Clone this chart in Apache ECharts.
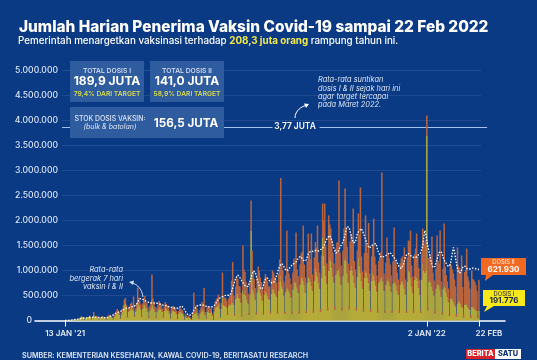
<!DOCTYPE html>
<html><head><meta charset="utf-8">
<style>html,body{margin:0;padding:0;background:#0b3a85}#c{width:537px;height:360px}</style>
<script src="https://cdn.jsdelivr.net/npm/echarts@6/dist/echarts.min.js"></script>
</head><body><div id="c"></div>
<script>
// daily vaccine recipients in thousands, 13 Jan 2021 .. 22 Feb 2022
const dose1 = [
2,3,5,8,10,4,12, 15,18,25,22,20,6,22, 45,60,80,70,55,15,50, 55,60,70,90,65,20,60,
120,70,60,75,60,20,55, 60,70,65,55,50,15,50, 60,90,80,70,55,25,80, 110,130,180,150,120,35,110,
170,220,320,330,240,60,180, 200,240,260,220,200,70,170, 240,380,320,270,220,70,240, 320,310,260,240,180,50,200,
250,420,300,240,180,60,180, 220,270,240,220,170,60,190, 250,230,200,200,140,40,160, 190,200,180,170,130,30,130,
180,170,150,140,100,20,80, 60,50,70,50,30,10,110, 180,130,200,160,100,40,140, 170,240,210,170,110,40,170,
190,160,150,170,90,10,180, 250,270,290,340,240,60,230, 450,320,290,300,260,110,290, 340,320,520,360,320,100,440,
560,540,450,440,360,80,600, 520,620,500,420,340,110,520, 1800,900,620,540,420,120,560, 700,640,560,500,400,110,520,
600,560,500,440,420,140,540, 640,620,560,520,480,130,600, 780,900,700,640,500,130,580, 680,640,600,540,460,130,620,
800,760,760,660,560,140,720, 860,880,800,720,560,150,760, 880,840,780,700,600,160,800, 1050,980,880,760,640,170,860,
1660,1300,1100,900,740,200,1000, 1260,1200,1050,880,760,220,920, 1000,1000,1050,880,720,200,900, 1200,1260,1200,950,760,220,1000,
1100,1000,900,750,660,200,880, 1260,1100,950,800,640,180,850, 1000,950,850,750,600,170,800, 950,900,800,700,580,160,750,
800,850,900,780,600,150,720, 800,850,780,700,580,150,740, 780,760,700,600,520,150,720, 780,800,740,640,520,150,780,
1000,980,860,680,560,160,820, 900,860,800,650,520,150,820, 1140,1000,950,1000,3700,200,780, 820,760,680,600,500,140,640,
720,740,700,620,480,120,640, 700,660,560,480,380,90,440, 460,420,380,320,280,70,340, 400,370,330,280,250,60,320,
340,320,280,240,220,50,280, 270,250,230,210,190,50,191.776
];
const dose2 = [
0,0,0,0,0,0,0, 0,0,0,0,0,0,0, 0,0,0,0,0,0,0, 2,3,5,8,5,2,10,
50,10,20,20,15,5,15, 15,20,20,15,10,5,15, 15,30,30,20,15,5,30, 40,50,50,50,40,10,50,
60,80,100,120,70,20,70, 70,90,100,80,280,30,70, 100,280,140,120,100,30,100, 130,180,110,100,80,20,90,
120,500,140,110,90,30,80, 100,120,110,100,70,30,90, 120,100,100,90,60,20,70, 90,90,80,70,60,15,60,
80,70,70,60,40,10,40, 30,20,30,20,15,5,50, 380,80,100,80,50,20,70, 90,130,110,480,60,20,90,
100,90,80,90,50,5,90, 130,150,160,180,120,10,120, 510,170,160,160,140,30,150, 180,170,280,810,180,30,240,
300,290,240,240,190,15,900, 500,350,280,230,200,40,280, 600,500,340,290,230,40,300, 380,350,300,270,220,40,280,
330,310,280,240,260,50,300, 360,340,310,300,280,50,340, 440,1950,400,360,280,40,320, 1120,360,340,300,270,50,340,
440,420,1000,360,330,50,400, 480,500,1100,400,300,50,420, 860,480,440,1040,320,60,460, 520,480,1020,400,320,60,440,
680,700,1240,600,400,70,1100, 660,640,560,480,380,70,520, 560,560,1750,480,380,60,500, 640,1380,640,520,380,70,580,
620,560,1340,440,360,60,520, 880,620,1710,480,340,60,500, 1100,560,500,1200,340,50,480, 560,1140,480,420,320,50,440,
480,520,2060,460,340,50,440, 860,500,460,420,320,50,440, 1080,440,420,360,300,50,430, 460,480,440,820,300,50,480,
600,600,940,420,320,50,500, 540,880,480,400,300,50,500, 700,600,570,620,400,60,470, 500,460,1000,360,300,50,400,
980,450,430,1180,300,40,400, 1240,420,350,300,260,35,700, 640,600,560,500,400,60,1120, 700,680,620,1020,420,60,650,
680,1120,600,560,420,60,720, 560,560,540,500,400,70,621.93
];
const movingAvg = [
1,2,3,4,6,7,8, 10,14,18,20,22,24,26, 30,36,42,48,50,52,50, 52,55,58,60,62,60,60,
68,66,64,62,60,58,58, 60,58,56,55,54,56,60, 66,72,78,90,100,110,125, 140,150,160,165,170,180,195,
205,215,230,240,250,255,250, 255,265,270,280,285,290,300, 330,370,410,430,440,430,420, 410,400,390,380,370,360,350,
350,350,355,350,345,350,345, 340,335,325,320,310,305,300, 300,295,285,280,270,265,260, 255,250,245,250,250,245,250,
265,280,290,280,250,210,170, 140,120,110,105,110,130,170, 210,240,270,290,300,305,310, 312,310,305,300,290,285,280,
275,270,268,270,275,285,300, 330,360,390,420,440,460,470, 480,490,495,505,510,510,505, 510,530,590,650,720,790,850,
890,910,890,860,830,790,760, 720,700,680,670,680,720,790, 860,930,990,1000,970,900,820, 750,690,640,610,640,700,770,
830,870,850,810,790,770,755, 750,760,790,840,900,970,1040, 1090,1130,1140,1120,1080,1040,1000, 1000,1010,1030,1060,1090,1110,1130,
1140,1150,1170,1210,1240,1270,1280, 1270,1240,1210,1190,1180,1210,1270, 1330,1370,1380,1390,1380,1390,1400, 1410,1400,1400,1390,1410,1420,1430,
1440,1480,1530,1580,1620,1660,1690, 1700,1660,1600,1520,1450,1400,1350, 1340,1370,1420,1460,1500,1540,1570, 1640,1720,1820,1880,1900,1860,1780,
1700,1620,1560,1520,1560,1650,1740, 1780,1800,1820,1840,1800,1740,1680, 1620,1560,1500,1460,1450,1470,1500, 1510,1520,1530,1540,1480,1400,1350,
1300,1270,1260,1270,1280,1290,1300, 1310,1330,1350,1360,1340,1310,1280, 1260,1240,1200,1150,1110,1070,1050, 1040,1060,1120,1190,1260,1310,1340,
1340,1320,1300,1290,1270,1260,1260, 1260,1270,1290,1320,1340,1350,1360, 1500,1660,1800,1720,1600,1480,1400, 1300,1200,1120,1060,1040,1080,1150,
1220,1300,1360,1400,1380,1320,1260, 1210,1180,1140,1100,1080,1060,1120, 1230,1360,1460,1380,1260,1130,1040, 960,940,960,1000,1060,1100,1090,
1060,1040,1030,1030,1020,1030,1040, 1050,1040,1040,1030,1030,1020,1020
];
const leadBlank = 29, tailBlank = 25;
const tickLabels = {"2021-01-13":"13 JAN '21","2022-01-02":"2 JAN '22","2022-02-22":"22 FEB"};
const yTicks = [500000,1000000,1500000,2000000,2500000,3000000,3500000,4000000,4500000,5000000];
const targetLineValue = 3870000;

const categories = [];
for (let i = 0; i < leadBlank + dose1.length + tailBlank; i++) {
  categories.push(new Date(Date.UTC(2021,0,13 + i - leadBlank)).toISOString().slice(0,10));
}
const pad = a => Array(leadBlank).fill(null).concat(a.map(v => v * 1000), Array(tailBlank).fill(null));
const F = 'Inter, "Open Sans", sans-serif';
const isTick = (i, v) => tickLabels[v] !== undefined;

function T(text,x,y,size,color,weight,extra){
  return {type:'text',z:120,style:Object.assign({text,x,y,font:(extra&&extra.fontStyle?extra.fontStyle+' ':'')+(weight||500)+' '+size+'px '+F,
    fill:color,align:'center',verticalAlign:'middle'},extra||{})};
}
function R(x,y,w,h,fill){return {type:'rect',z:110,shape:{x,y,width:w,height:h},style:{fill}};}
function P(points,fill){return {type:'polygon',z:110,shape:{points},style:{fill}};}
function Arrow(x1,y1,c1x,c1y,c2x,c2y,x2,y2,color){return {type:'bezierCurve',z:115,shape:{x1,y1,cpx1:c1x,cpy1:c1y,cpx2:c2x,cpy2:c2y,x2,y2},style:{stroke:color,fill:null,lineWidth:1}};}

const graphics = [
  {type:'text',z:120,style:{text:'Jumlah Harian Penerima Vaksin Covid-19 sampai 22 Feb 2022',x:19,y:27,font:'800 15.4px '+F,fill:'#fff',verticalAlign:'middle'}},
  {type:'text',z:120,style:{x:18,y:41,verticalAlign:'middle',font:'500 9.8px '+F,fill:'#fff',
    text:'Pemerintah menargetkan vaksinasi terhadap {y|208,3 juta orang} rampung tahun ini.',
    rich:{y:{fill:'#f2e84a',font:'700 9.8px '+F}}}},
  R(70,61,74,41,'#2f5b9f'),R(150,61,74,41,'#2f5b9f'),R(70,107,154,31,'#2f5b9f'),
  T('TOTAL DOSIS I',107,71,6.8,'#dbe5f4',500),
  T('189,9 JUTA',107,81.5,12,'#fff',700),
  T('79,4% DARI TARGET',107,94,6.7,'#d8dc4c',600),
  T('TOTAL DOSIS II',187,71,6.8,'#dbe5f4',500),
  T('141,0 JUTA',187,81,12,'#fff',700),
  T('58,9% DARI TARGET',187,93.5,6.7,'#d8dc4c',600),
  T('STOK DOSIS VAKSIN:',110,118.5,6.9,'#dbe5f4',500),
  T('(bulk & batolan)',110,126.5,7,'#dbe5f4',400,{fontStyle:'italic'}),
  T('156,5 JUTA',186,123,11.7,'#fff',700),
  T('3,77 JUTA',295,126.5,8.4,'#fff',600),
  {type:'text',z:120,style:{x:318,y:76,font:'italic 400 7.4px '+F,lineHeight:8.3,fill:'#dbe5f4',verticalAlign:'top',
    text:'Rata-rata suntikan\ndosis I & II sejak hari ini\nagar target tercapai\npada Maret 2022.'}},
  {type:'text',z:120,style:{x:123,y:266,font:'italic 400 7.4px '+F,lineHeight:8.3,fill:'#dbe5f4',align:'right',verticalAlign:'top',
    text:'Rata-rata\nbergerak 7 hari\nvaksin I & II'}},
  Arrow(295,118,295,111,301,106,308,105,'#fff'),
  P([[309,104],[304,103.5],[306,108]],'#fff'),
  Arrow(143,297,142,289,137,284,132,283,'#cfe0f5'),
  P([[129,282],[134,280.5],[133,285]],'#cfe0f5'),
  R(481,258,45,17,'#f26a21'),P([[486,275],[493,275],[485,281]],'#f26a21'),
  T('DOSIS II',503.5,262.5,5.8,'#ffe3cf',500),
  T('621.930',503.5,270,8,'#fff',700),
  R(483,290,42,16,'#f7e81c'),P([[487,306],[494,306],[484,312]],'#f7e81c'),
  T('DOSIS I',504,294,5.8,'#333',500),
  T('191.776',504,301,8,'#10224d',700),
  {type:'text',z:120,style:{text:'SUMBER: KEMENTERIAN KESEHATAN, KAWAL COVID-19, BERITASATU RESEARCH',x:22,y:355.5,font:'600 7.2px '+F,fill:'#dbe5f4',verticalAlign:'middle'}},
  R(466,349,29,10,'#d8232a'),R(495,349,26,10,'#ffffff'),
  T('BERITA',480.5,354.2,7.4,'#fff',800),
  T('SATU',508,354.2,7.4,'#10337a',800)
];

const gridData = yTicks.map(v => [{xAxis:categories[26],yAxis:v},{xAxis:categories[436],yAxis:v}]);
const targetData = [
  [{xAxis:categories[26],yAxis:targetLineValue},{xAxis:categories[232],yAxis:targetLineValue}],
  [{xAxis:categories[278],yAxis:targetLineValue},{xAxis:categories[442],yAxis:targetLineValue}]
];

const chart = echarts.init(document.getElementById('c'),null,{renderer:'canvas'});
chart.setOption({
  backgroundColor:'#0b3a85',animation:false,
  grid:{left:35,right:32,top:70.5,height:250,containLabel:false},
  xAxis:{type:'category',data:categories,boundaryGap:true,
    axisLine:{lineStyle:{color:'#fff',width:1.6}},
    axisTick:{show:true,interval:isTick,alignWithLabel:true,length:6,lineStyle:{color:'#fff',width:1}},
    axisLabel:{interval:isTick,hideOverlap:false,margin:9,color:'#e4ecf7',fontFamily:'Inter',fontSize:8,fontWeight:600,
      formatter:v => v==='2022-02-22' ? '{r|'+tickLabels[v]+'}' : (tickLabels[v]||''),
      rich:{r:{padding:[0,0,0,20],fontFamily:'Inter',fontSize:8,fontWeight:600,color:'#e4ecf7'}}}
  },
  yAxis:{type:'value',min:0,max:5000000,interval:500000,splitLine:{show:false},axisLine:{show:false},axisTick:{show:false},
    axisLabel:{margin:-23,align:'right',color:'#dbe5f4',fontFamily:'Inter',fontSize:8.6,fontWeight:500,
      formatter:v => v===0 ? '{z|0}' : String(v).replace(/\B(?=(\d{3})+$)/g,'.'),
      rich:{z:{padding:[0,26,0,0],fontFamily:'Inter',fontSize:8.6,fontWeight:500,color:'#dbe5f4'}}}
  },
  series:[
    {name:'Dosis I',type:'bar',stack:'d',data:pad(dose1),barWidth:'150%',itemStyle:{color:'#b5ab3b'},z:3,
      markLine:{silent:true,symbol:'none',z:1,label:{show:false},lineStyle:{color:'rgba(255,255,255,0.09)',width:1,type:'solid'},data:gridData}},
    {name:'Dosis II',type:'bar',stack:'d',data:pad(dose2),barWidth:'150%',itemStyle:{color:'#b8643e'},z:3,
      markLine:{silent:true,symbol:'none',z:2,label:{show:false},lineStyle:{color:'#a4c2ee',width:1,type:'solid'},data:targetData}},
    {name:'Rata-rata 7 hari',type:'line',data:pad(movingAvg),symbol:'none',z:5,
      lineStyle:{color:'#fff',width:1.3,type:[1.5,1.5]}}
  ],
  graphic:graphics
});
</script></body></html>
